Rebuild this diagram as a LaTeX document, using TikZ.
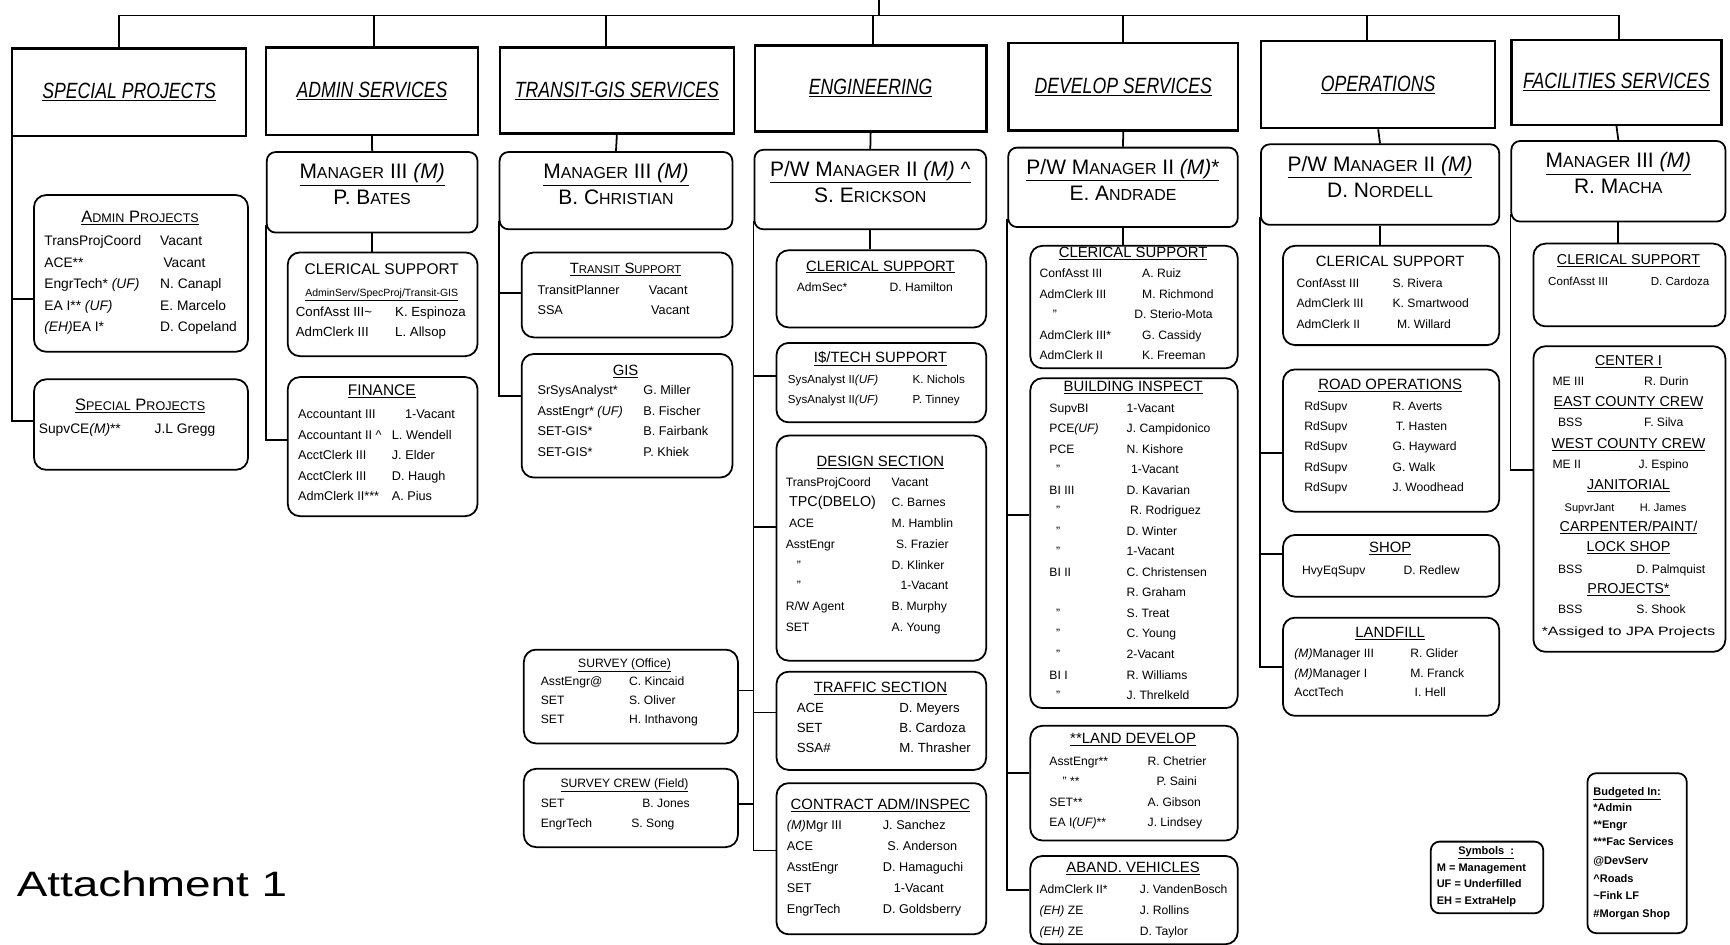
\documentclass[tikz,border=0pt]{standalone}
\usepackage{fontspec}
\usepackage{graphicx}
\setmainfont{Liberation Sans}
\newfontfamily\hdrfont{Liberation Sans}[FakeStretch=0.8]
\newfontfamily\handfont{Liberation Sans}[FakeStretch=1.3]
\newcommand\sm[1]{\scalebox{0.76}{#1}}
\newcommand\xUF{\textit{(UF)}}
\newcommand\xM{\textit{(M)}}
\newcommand\xEH{\textit{(EH)}}
\newcommand\rows[7]{%
  \foreach \l/\n [count=\i] in {#7} {%
    \node[rt, font=\fontsize{#2}{#2}\selectfont] (#1-l\i) at (#3,{#5+(\i-1)*#6}) {\l};
    \node[rt, font=\fontsize{#2}{#2}\selectfont] (#1-n\i) at (#4,{#5+(\i-1)*#6}) {\n};
  }}
\newcommand\mgr[7]{%
  \node[mbox, minimum width=#4pt, minimum height=#5pt] (#1) at (#2,#3) {};
  \node[mt] (#1-a) at ([yshift=-22.5pt]#1.north) {\underline{#6}};
  \node[mt] (#1-b) at ([yshift=-46pt]#1.north) {#7};}
\newcommand\bx[5]{\node[ubox, minimum width=#4pt, minimum height=#5pt] (#1) at (#2,#3) {};}
\begin{document}
\begin{tikzpicture}[x=1pt,y=-1pt,
  conn/.style={line width=1.6pt},
  hdr/.style={draw, line width=2.2pt, anchor=north west, inner sep=0pt, font=\hdrfont\itshape\fontsize{20}{22}\selectfont},
  mbox/.style={draw, line width=1.6pt, rounded corners=8pt, anchor=north west, inner sep=0pt},
  ubox/.style={draw, line width=1.6pt, rounded corners=11pt, anchor=north west, inner sep=0pt},
  mt/.style={anchor=mid, inner sep=0pt, font=\fontsize{19}{20}\selectfont},
  ttl/.style={anchor=mid, inner sep=0pt, font=\fontsize{13.5}{14}\selectfont},
  rt/.style={anchor=mid west, inner sep=0pt},
  leg/.style={anchor=mid west, inner sep=0pt, font=\bfseries\fontsize{10}{10}\selectfont},
]
\useasboundingbox (0,0) rectangle (1568,856);

% ---------- Column 1: Special Projects
\node[hdr, minimum width=212pt, minimum height=79pt] (SPh) at (10,43) {\underline{SPECIAL PROJECTS}};
\bx{AP}{30}{176}{194}{142}
\node[ttl, font=\fontsize{15}{16}\selectfont] (AP-t) at (127,199) {\underline{A\sm{DMIN} P\sm{ROJECTS}}};
\rows{AP}{12.5}{40}{145}{220}{19.5}{TransProjCoord/Vacant, ACE**/\hspace*{3pt}Vacant, EngrTech* \xUF/N. Canapl, EA I** \xUF/E. Marcelo, \xEH EA I*/D. Copeland}
\bx{SPb}{30}{343}{194}{82}
\node[ttl, font=\fontsize{15}{16}\selectfont] (SPb-t) at (127,369) {\underline{S\sm{PECIAL} P\sm{ROJECTS}}};
\rows{SPb}{12.5}{35}{140}{390}{0}{SupvCE\xM**/J.L Gregg}

% ---------- Column 2: Admin Services
\node[hdr, minimum width=192pt, minimum height=79pt] (ASh) at (240,42) {\underline{ADMIN SERVICES}};
\mgr{ASm}{241}{137}{191}{73}{M\sm{ANAGER} III \xM}{P. B\sm{ATES}}
\bx{AScl}{260}{228}{172}{94}
\node[ttl, font=\fontsize{14}{15}\selectfont] (AScl-t) at (346,246) {CLERICAL SUPPORT};
\node[ttl, font=\fontsize{9.5}{10}\selectfont] (AScl-s) at (346,266) {\underline{AdminServ/SpecProj/Transit-GIS}};
\rows{AScl}{12}{268}{358}{284}{18.5}{ConfAsst III\textasciitilde/K. Espinoza, AdmClerk III/L. Allsop}
\bx{ASfin}{260}{341}{172}{126}
\node[ttl, font=\fontsize{14}{15}\selectfont] (ASfin-t) at (346,356) {\underline{FINANCE}};
\rows{ASfin}{11.5}{270}{355}{377}{18.5}{Accountant III/\hspace*{12pt}1-Vacant, Accountant II \textasciicircum/L. Wendell, AcctClerk III/J. Elder, AcctClerk III/D. Haugh, AdmClerk II***/A. Pius}

% ---------- Column 3: Transit-GIS
\node[hdr, minimum width=212pt, minimum height=78pt] (TGh) at (452,42) {\underline{TRANSIT-GIS SERVICES}};
\mgr{TGm}{452}{137}{211}{70}{M\sm{ANAGER} III \xM}{B. C\sm{HRISTIAN}}
\bx{TGts}{472}{228}{191}{77}
\node[ttl] (TGts-t) at (567,245) {\underline{T\sm{RANSIT} S\sm{UPPORT}}};
\rows{TGts}{11.5}{487}{588}{264}{18}{TransitPlanner/Vacant, SSA/\hspace*{2pt}Vacant}
\bx{TGgis}{472}{320}{191}{112}
\node[ttl] (TGgis-t) at (567,338) {\underline{GIS}};
\rows{TGgis}{11.5}{487}{583}{355}{18.7}{SrSysAnalyst*/G. Miller, AsstEngr* \xUF/B. Fischer, SET-GIS*/B. Fairbank, SET-GIS*/P. Khiek}
\bx{TGso}{474}{588}{194}{85}
\node[ttl, font=\fontsize{11}{12}\selectfont] (TGso-t) at (566,602) {\underline{SURVEY (Office)}};
\rows{TGso}{11}{490}{570}{619}{17}{AsstEngr@/C. Kincaid, SET/S. Oliver, SET/H. Inthavong}
\bx{TGsc}{474}{696}{194}{71}
\node[ttl, font=\fontsize{11}{12}\selectfont] (TGsc-t) at (566,711) {\underline{SURVEY CREW (Field)}};
\rows{TGsc}{11}{490}{572}{729}{18}{SET/\hspace*{10pt}B. Jones, EngrTech/S. Song}

% ---------- Column 4: Engineering
\node[hdr, minimum width=210pt, minimum height=78pt] (ENh) at (683,40) {\underline{ENGINEERING}};
\mgr{ENm}{683}{135}{210}{72}{P/W M\sm{ANAGER} II \xM\ \textasciicircum}{S. E\sm{RICKSON}}
\bx{ENcl}{703}{226}{190}{70}
\node[ttl] (ENcl-t) at (798,243) {\underline{CLERICAL SUPPORT}};
\rows{ENcl}{11}{722}{806}{262}{0}{AdmSec*/D. Hamilton}
\bx{ENis}{703}{310}{190}{72}
\node[ttl] (ENis-t) at (798,326) {\underline{I\$/TECH SUPPORT}};
\rows{ENis}{10.5}{714}{827}{345}{18.5}{SysAnalyst II\xUF/K. Nichols, SysAnalyst II\xUF/P. Tinney}
\bx{ENds}{703}{394}{190}{204}
\node[ttl] (ENds-t) at (798,420) {\underline{DESIGN SECTION}};
\rows{ENds}{11}{712}{808}{438}{18.8}{TransProjCoord/Vacant, \hspace*{3pt}{\fontsize{13}{13}\selectfont TPC(DBELO)}/C. Barnes, \hspace*{3pt}ACE/M. Hamblin, AsstEngr/\hspace*{4pt}S. Frazier, \hspace*{10pt}"/D. Klinker, \hspace*{10pt}"/\hspace*{8pt}1-Vacant, {R/W Agent}/B. Murphy, SET/A. Young}
\bx{ENtr}{703}{608}{190}{89}
\node[ttl] (ENtr-t) at (798,625) {\underline{TRAFFIC SECTION}};
\rows{ENtr}{12}{722}{815}{643}{18}{ACE/D. Meyers, SET/B. Cardoza, SSA\#/M. Thrasher}
\bx{ENca}{703}{709}{190}{137}
\node[ttl] (ENca-t) at (798,731) {\underline{CONTRACT ADM/INSPEC}};
\rows{ENca}{11.5}{713}{800}{749}{19}{\xM Mgr III/J. Sanchez, ACE/\hspace*{4pt}S. Anderson, AsstEngr/D. Hamaguchi, SET/\hspace*{10pt}1-Vacant, EngrTech/D. Goldsberry}

% ---------- Column 5: Develop Services
\node[hdr, minimum width=208pt, minimum height=79pt] (DSh) at (913,38) {\underline{DEVELOP SERVICES}};
\mgr{DSm}{913}{133}{208}{72}{P/W M\sm{ANAGER} II \xM*}{E. A\sm{NDRADE}}
\bx{DScl}{933}{222}{188}{111}
\node[ttl] (DScl-t) at (1027,231) {\underline{CLERICAL SUPPORT}};
\rows{DScl}{11}{942}{1035}{249}{18.6}{ConfAsst III/A. Ruiz, AdmClerk III/M. Richmond, \hspace*{12pt}"/\hspace*{-7pt}D. Sterio-Mota, AdmClerk III*/G. Cassidy, AdmClerk II/K. Freeman}
\bx{DSbi}{933}{342}{188}{299}
\node[ttl] (DSbi-t) at (1027,352) {\underline{BUILDING INSPECT}};
\rows{DSbi}{11}{951}{1021}{371}{18.6}{SupvBI/1-Vacant, PCE\xUF/J. Campidonico, PCE/N. Kishore, \hspace*{6pt}"/\hspace*{4pt}1-Vacant, BI III/D. Kavarian, \hspace*{6pt}"/\hspace*{3pt}R. Rodriguez, \hspace*{6pt}"/D. Winter, \hspace*{6pt}"/1-Vacant, BI II/C. Christensen, {}/R. Graham, \hspace*{6pt}"/S. Treat, \hspace*{6pt}"/C. Young, \hspace*{6pt}"/2-Vacant, BI I/R. Williams, \hspace*{6pt}"/J. Threlkeld}
\bx{DSld}{933}{657}{188}{104}
\node[ttl] (DSld-t) at (1027,671) {\underline{**LAND DEVELOP}};
\rows{DSld}{11}{951}{1040}{691}{18.5}{AsstEngr**/R. Chetrier, \hspace*{12pt}" **/\hspace*{8pt}P. Saini, SET**/A. Gibson, EA I\xUF**/J. Lindsey}
\bx{DSav}{933}{775}{188}{80}
\node[ttl] (DSav-t) at (1027,788) {\underline{ABAND. VEHICLES}};
\rows{DSav}{11}{942}{1033}{807}{19}{AdmClerk II*/J. VandenBosch, \xEH\ ZE/J. Rollins, \xEH\ ZE/D. Taylor}

% ---------- Column 6: Operations
\node[hdr, minimum width=212pt, minimum height=79pt] (OPh) at (1142,36) {\underline{OPERATIONS}};
\mgr{OPm}{1142}{130}{216}{73}{P/W M\sm{ANAGER} II \xM}{D. N\sm{ORDELL}}
\bx{OPcl}{1162}{222}{196}{90}
\node[ttl] (OPcl-t) at (1260,239) {CLERICAL SUPPORT};
\rows{OPcl}{11}{1175}{1262}{258}{18.5}{ConfAsst III/S. Rivera, AdmClerk III/K. Smartwood, AdmClerk II/\hspace*{4pt}M. Willard}
\bx{OPro}{1162}{334}{196}{129}
\node[ttl] (OPro-t) at (1260,350) {\underline{ROAD OPERATIONS}};
\rows{OPro}{11}{1182}{1262}{369}{18.5}{RdSupv/R. Averts, RdSupv/\hspace*{3pt}T. Hasten, RdSupv/G. Hayward, RdSupv/G. Walk, RdSupv/J. Woodhead}
\bx{OPsh}{1162}{484}{196}{56}
\node[ttl] (OPsh-t) at (1260,498) {\underline{SHOP}};
\rows{OPsh}{11}{1180}{1272}{518}{0}{HvyEqSupv/D. Redlew}
\bx{OPlf}{1162}{559}{196}{89}
\node[ttl] (OPlf-t) at (1260,575) {\underline{LANDFILL}};
\rows{OPlf}{11}{1173}{1278}{593}{18}{\xM Manager III/R. Glider, \xM Manager I/M. Franck, AcctTech/\hspace*{4pt}I. Hell}

% ---------- Column 7: Facilities Services
\node[hdr, minimum width=190pt, minimum height=77pt] (FSh) at (1369,35) {\underline{FACILITIES SERVICES}};
\mgr{FSm}{1369}{127}{194}{73}{M\sm{ANAGER} III \xM}{R. M\sm{ACHA}}
\bx{FScl}{1389}{220}{174}{75}
\node[ttl, font=\fontsize{13}{14}\selectfont] (FScl-t) at (1476,237) {\underline{CLERICAL SUPPORT}};
\rows{FScl}{10.5}{1403}{1496}{256}{0}{ConfAsst III/D. Cardoza}
\bx{FSce}{1389}{313}{174}{277}
\begin{scope}[ttl/.append style={font=\fontsize{13}{14}\selectfont}]
\node[ttl] (FSce-t1) at (1476,329) {\underline{CENTER I}};
\rows{FSce-a}{11}{1407}{1490}{347}{0}{ME III/R. Durin}
\node[ttl] (FSce-t2) at (1476,366) {\underline{EAST COUNTY CREW}};
\rows{FSce-b}{11}{1412}{1490}{384}{0}{BSS/F. Silva}
\node[ttl] (FSce-t3) at (1476,404) {\underline{WEST COUNTY CREW}};
\rows{FSce-c}{11}{1407}{1485}{422}{0}{ME II/J. Espino}
\node[ttl] (FSce-t4) at (1476,441) {\underline{JANITORIAL}};
\rows{FSce-d}{10}{1418}{1486}{461}{0}{SupvrJant/H. James}
\node[ttl] (FSce-t5) at (1476,479) {\underline{CARPENTER/PAINT/}};
\node[ttl] (FSce-t6) at (1476,497) {\underline{LOCK SHOP}};
\rows{FSce-e}{11}{1412}{1483}{517}{0}{BSS/D. Palmquist}
\node[ttl] (FSce-t7) at (1476,535) {\underline{PROJECTS*}};
\rows{FSce-f}{11}{1412}{1483}{553}{0}{BSS/S. Shook}
\end{scope}
\node[anchor=mid, inner sep=0pt, font=\handfont\fontsize{11}{12}\selectfont] (FSce-note) at (1476,573) {*Assiged to JPA Projects};

% ---------- Legends
\node[ubox, rounded corners=8pt, minimum width=102pt, minimum height=65pt] (sym) at (1296,762) {};
\node[leg, anchor=mid] (sym-t) at (1347,772) {\underline{Symbols\ \ :}};
\node[leg] (sym-1) at (1302,787) {M = Management};
\node[leg] (sym-2) at (1302,802) {UF = Underfilled};
\node[leg] (sym-3) at (1302,817) {EH = ExtraHelp};

\node[ubox, rounded corners=8pt, minimum width=90pt, minimum height=145pt] (bud) at (1438,700) {};
\node[leg] (bud-t) at (1444,718) {\underline{Budgeted In:}};
\node[leg] (bud-1) at (1444,733) {*Admin};
\node[leg] (bud-2) at (1444,748) {**Engr};
\node[leg] (bud-3) at (1444,764) {***Fac Services};
\node[leg] (bud-4) at (1444,781) {@DevServ};
\node[leg] (bud-5) at (1444,797) {\textasciicircum Roads};
\node[leg] (bud-6) at (1444,813) {\textasciitilde Fink LF};
\node[leg] (bud-7) at (1444,829) {\#Morgan Shop};

\node[anchor=mid west, inner sep=0pt, font=\handfont\fontsize{32}{34}\selectfont] (att) at (15,810) {Attachment 1};

% ---------- Connectors
\coordinate (topc) at (797,0);
\coordinate (bus) at (797,14);
\draw[conn] (topc) -- (bus);
\draw[conn] ([xshift=-9pt]SPh.north) |- (bus);
\draw[conn] ([xshift=2pt]ASh.north) |- (bus);
\draw[conn] ([xshift=-10pt]TGh.north) |- (bus);
\draw[conn] ([xshift=2pt]ENh.north) |- (bus);
\draw[conn] (DSh.north) |- (bus);
\draw[conn] ([xshift=-10pt]OPh.north) |- (bus);
\draw[conn] ([xshift=2pt]FSh.north) |- (bus);

% col 1
\draw[conn] ([xshift=1pt]SPh.south west) |- ([yshift=-23pt]AP.west);
\draw[conn] ([xshift=1pt]SPh.south west) |- ([yshift=3pt]SPb.west);
% col 2
\draw[conn] (ASh.south) -- (ASm.north);
\draw[conn] (ASm.south) -- (ASm.south |- AScl.north);
\draw[conn] ([yshift=8pt]ASm.south west) |- ([yshift=6pt]ASfin.west);
% col 3
\draw[conn] (TGh.south) -- (TGm.north);
\coordinate (TGv) at ([yshift=8pt]TGm.south west);
\draw[conn] (TGv) |- ([yshift=1.5pt]TGts.west);
\draw[conn] (TGv) |- ([yshift=18pt]TGgis.west);
% col 4
\draw[conn] (ENh.south) -- (ENm.north);
\draw[conn] (ENm.south) -- (ENm.south |- ENcl.north);
\coordinate (ENv) at ([yshift=8pt]ENm.south west);
\draw[conn] (ENv) |- ([yshift=6pt]ENis.west);
\draw[conn] (ENv) |- ([yshift=19pt]ENds.west);
\draw[conn] (ENv) |- ([yshift=7.5pt]ENtr.west);
\draw[conn] (ENv) |- ([yshift=7.5pt]ENca.west);
\draw[conn] ([yshift=5.5pt]TGso.east) -| (ENv);
\draw[conn] ([yshift=3.5pt]TGsc.east) -| (ENv);
% col 5
\draw[conn] (DSh.south) -- (DSm.north);
\draw[conn] (DSm.south) -- (DSm.south |- DScl.north);
\coordinate (DSv) at ([yshift=8pt]DSm.south west);
\draw[conn] (DSv) |- ([yshift=25.5pt]DSbi.west);
\draw[conn] (DSv) |- ([yshift=9pt]DSld.west);
\draw[conn] (DSv) |- ([yshift=9pt]DSav.west);
% col 6
\draw[conn] (OPh.south) -- (OPm.north);
\draw[conn] (OPm.south) -- (OPm.south |- OPcl.north);
\coordinate (OPv) at ([yshift=8pt]OPm.south west);
\draw[conn] (OPv) |- ([yshift=-11.5pt]OPro.west);
\draw[conn] (OPv) |- ([yshift=11pt]OPsh.west);
\draw[conn] (OPv) |- (OPlf.west);
% col 7
\draw[conn] (FSh.south) -- (FSm.north);
\draw[conn] (FSm.south) -- (FSm.south |- FScl.north);
\coordinate (FSv) at ([yshift=8pt]FSm.south west);
\draw[conn] (FSv) |- ([yshift=26.5pt]FSce.west);
\end{tikzpicture}
\end{document}
